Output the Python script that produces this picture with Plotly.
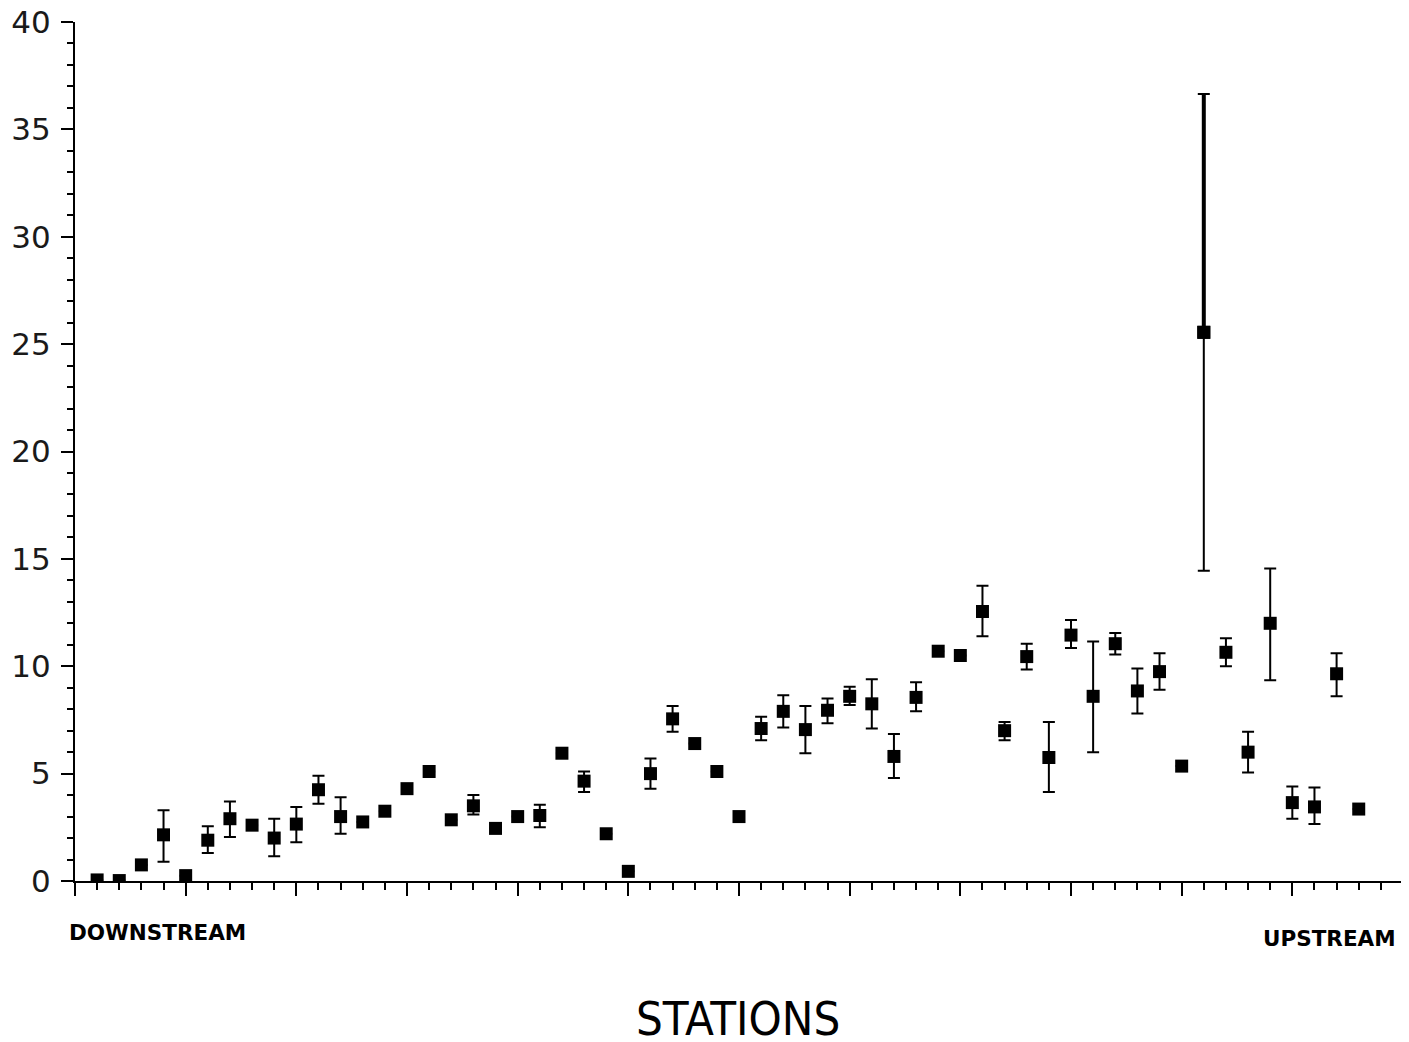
import plotly.graph_objects as go

stations = list(range(1, 59))
means = [0.05, 0.02, 0.75, 2.15, 0.25, 1.9, 2.9, 2.6, 2.0, 2.65,
         4.25, 3.0, 2.75, 3.25, 4.3, 5.1, 2.85, 3.5, 2.45, 3.0,
         3.05, 5.95, 4.65, 2.2, 0.45, 5.0, 7.55, 6.4, 5.1, 3.0,
         7.1, 7.9, 7.05, 7.95, 8.6, 8.25, 5.8, 8.55, 10.7, 10.5,
         12.55, 7.0, 10.45, 5.75, 11.45, 8.6, 11.05, 8.85, 9.75, 5.35,
         25.55, 10.65, 6.0, 12.0, 3.65, 3.45, 9.65, 3.35]
err_plus = [0, 0, 0, 1.15, 0, 0.65, 0.8, 0, 0.9, 0.8,
            0.65, 0.9, 0, 0, 0, 0, 0, 0.5, 0, 0,
            0.5, 0, 0.45, 0, 0, 0.7, 0.6, 0, 0, 0,
            0.55, 0.75, 1.1, 0.55, 0.45, 1.15, 1.05, 0.7, 0, 0,
            1.2, 0.4, 0.6, 1.65, 0.7, 2.55, 0.5, 1.05, 0.85, 0,
            11.1, 0.65, 0.95, 2.55, 0.75, 0.9, 0.95, 0]
err_minus = [0, 0, 0, 1.25, 0, 0.6, 0.85, 0, 0.85, 0.85,
             0.65, 0.8, 0, 0, 0, 0, 0, 0.4, 0, 0,
             0.55, 0, 0.5, 0, 0, 0.7, 0.6, 0, 0, 0,
             0.55, 0.75, 1.1, 0.6, 0.4, 1.15, 1.0, 0.65, 0, 0,
             1.15, 0.45, 0.6, 1.6, 0.6, 2.6, 0.5, 1.05, 0.85, 0,
             11.1, 0.65, 0.95, 2.65, 0.75, 0.8, 1.05, 0]
thick_idx = [50]

y_ticks = [0, 5, 10, 15, 20, 25, 30, 35, 40]

fig = go.Figure()
fig.add_trace(go.Scatter(
    x=stations, y=means, mode="markers",
    marker=dict(symbol="square", size=13, color="black"),
    error_y=dict(type="data", symmetric=False, array=err_plus, arrayminus=err_minus,
                 color="black", thickness=2, width=6),
    showlegend=False,
))
fig.add_trace(go.Scatter(
    x=[stations[i] for i in thick_idx], y=[means[i] for i in thick_idx], mode="markers",
    marker=dict(symbol="square", size=13, color="black"),
    error_y=dict(type="data", symmetric=False, array=[err_plus[i] for i in thick_idx],
                 arrayminus=[0 for i in thick_idx], color="black", thickness=4, width=0),
    showlegend=False,
))

fig.update_layout(
    width=1401, height=1034,
    margin=dict(l=67, r=6, t=14, b=161),
    paper_bgcolor="white", plot_bgcolor="white",
    font=dict(family="DejaVu Sans, Liberation Sans, sans-serif", color="black"),
)
fig.update_xaxes(
    range=[0, 60], showgrid=False, zeroline=False, automargin=False,
    showline=True, linecolor="black", linewidth=2,
    ticks="outside", tickmode="linear", tick0=0, dtick=5, ticklen=13, tickwidth=2, tickcolor="black",
    showticklabels=False,
    minor=dict(ticks="outside", dtick=1, ticklen=7, tickwidth=2, tickcolor="black"),
)
fig.update_yaxes(
    range=[0, 40], showgrid=False, zeroline=False, automargin=False,
    showline=True, linecolor="black", linewidth=2,
    ticks="outside", tickmode="array", tickvals=y_ticks, ticktext=[str(v) for v in y_ticks],
    ticklen=12, tickwidth=2, tickcolor="black",
    ticklabelstandoff=4, ticklabeloverflow="allow",
    tickfont=dict(size=31, color="#1a1a1a", family="DejaVu Sans, Liberation Sans, sans-serif"),
    minor=dict(ticks="outside", dtick=1, ticklen=6, tickwidth=1.5, tickcolor="black"),
)

fig.add_annotation(text="<b>DOWNSTREAM</b>", xref="paper", yref="paper", x=-0.006, y=-0.0594,
                   xanchor="left", yanchor="middle", showarrow=False,
                   font=dict(size=21.5, family="DejaVu Sans, Liberation Sans, sans-serif"))
fig.add_annotation(text="<b>UPSTREAM</b>", xref="paper", yref="paper", x=0.9962, y=-0.0675,
                   xanchor="right", yanchor="middle", showarrow=False,
                   font=dict(size=21.5, family="DejaVu Sans, Liberation Sans, sans-serif"))
fig.add_annotation(text="STATIONS", xref="paper", yref="paper", x=0.4992, y=-0.16,
                   xanchor="center", yanchor="middle", showarrow=False,
                   font=dict(size=47, family="DejaVu Sans Condensed, Liberation Sans, sans-serif"))

fig.write_html("out.html")
